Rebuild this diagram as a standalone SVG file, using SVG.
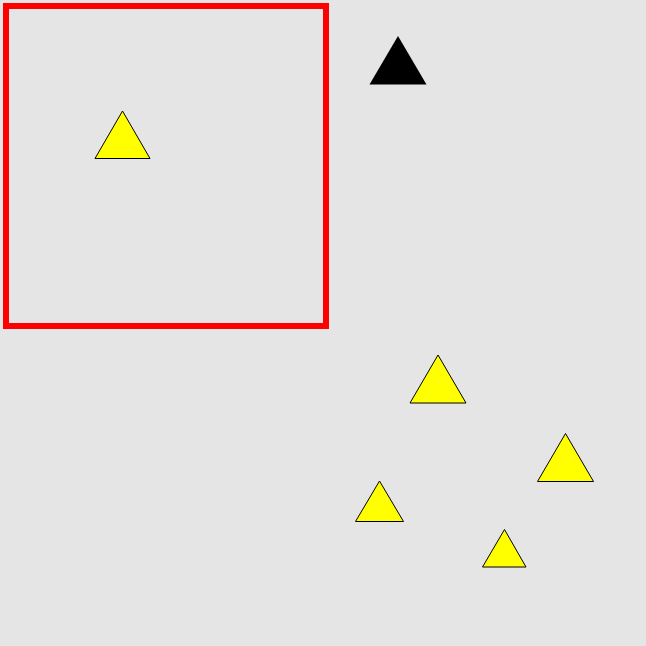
<svg xmlns="http://www.w3.org/2000/svg" width="646" height="646" viewBox="0 0 646 646">
<style>
.y{fill:#ffff00;stroke:#000;stroke-width:1;stroke-linejoin:miter}
.k{fill:#000;stroke:none}
</style>
<rect x="0" y="0" width="646" height="646" fill="#e5e5e5"/>
<rect id="frame" x="6" y="6" width="320" height="320" fill="none" stroke="#ff0000" stroke-width="6"/>
<polygon id="black-tri" class="k" points="398,36 426.5,84.5 369.5,84.5"/>
<polygon id="tri1" class="y" points="122.5,111 150,158.5 95,158.5"/>
<polygon id="tri2" class="y" points="438,355 466,403 410,403"/>
<polygon id="tri3" class="y" points="565.5,433.5 593.5,481.5 537.5,481.5"/>
<polygon id="tri4" class="y" points="379.5,481 403.5,521.5 355.5,521.5"/>
<polygon id="tri5" class="y" points="504.5,529.5 526,567 482.5,567"/>
</svg>
